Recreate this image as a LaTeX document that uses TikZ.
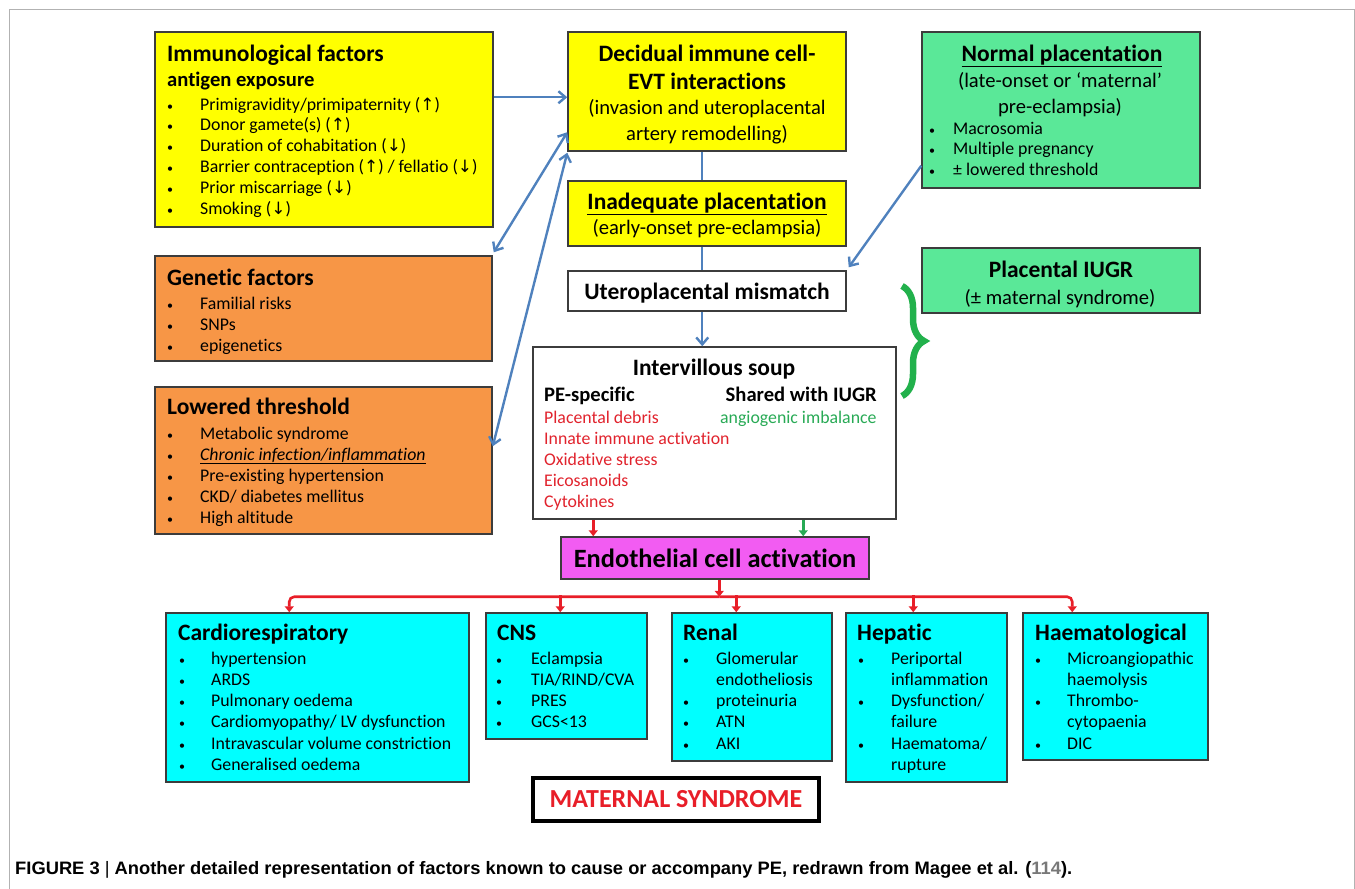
\documentclass[tikz,border=0pt]{standalone}
\usepackage{fontspec}
\setmainfont{Carlito}[Ligatures={NoCommon}]
\newfontfamily\arrowfont{DejaVu Sans}
\newfontfamily\capfont{Liberation Sans}
\usepackage{graphicx}
\usetikzlibrary{arrows.meta,fit,decorations.pathreplacing,calc}

\definecolor{yel}{RGB}{255,255,0}
\definecolor{org}{RGB}{247,150,70}
\definecolor{grn}{RGB}{90,232,152}
\definecolor{cyn}{RGB}{0,255,255}
\definecolor{mag}{RGB}{242,92,242}
\definecolor{bluearr}{RGB}{79,129,189}
\definecolor{redc}{RGB}{232,30,40}
\definecolor{redt}{RGB}{225,35,45}
\definecolor{grtext}{RGB}{40,170,85}
\definecolor{brace}{RGB}{34,177,76}
\definecolor{bord}{RGB}{60,60,60}
\definecolor{capgray}{RGB}{120,120,120}

\newcommand\bl[1][30pt]{\makebox[#1][l]{\fontsize{12}{12}\selectfont\textbullet}}
\newcommand\cn[1][30pt]{\hspace*{#1}}
\newcommand\ua{{\arrowfont\fontsize{17}{17}\selectfont ↑}}
\newcommand\da{{\arrowfont\fontsize{17}{17}\selectfont ↓}}

\tikzset{
 bx/.style={draw=bord, line width=1.5pt, inner sep=0pt},
 ttl/.style={anchor=base west, inner sep=0pt, font=\bfseries\fontsize{23.5}{28}\selectfont},
 ttc/.style={anchor=base, inner sep=0pt, font=\bfseries\fontsize{23.5}{28}\selectfont},
 sbb/.style={anchor=base west, inner sep=0pt, font=\bfseries\fontsize{20.6}{24}\selectfont},
 sub/.style={anchor=base, inner sep=0pt, font=\fontsize{20.6}{24}\selectfont},
 itm/.style={anchor=base west, inner sep=0pt, font=\fontsize{17.8}{21}\selectfont},
 barr/.style={draw=bluearr, line width=2.4pt, -{Straight Barb[length=7pt,width=12pt]}},
 barrtwo/.style={draw=bluearr, line width=2.4pt, {Straight Barb[length=7pt,width=12pt]}-{Straight Barb[length=7pt,width=12pt]}},
 bline/.style={draw=bluearr, line width=2.4pt},
 rarr/.style={draw=redc, line width=2.6pt, -{Triangle[length=6pt,width=9pt]}},
 garr/.style={draw=grtext, line width=2.6pt, -{Triangle[length=6pt,width=9pt]}},
}

\begin{document}
\begin{tikzpicture}[x=1pt,y=-1pt]
\useasboundingbox (0,0) rectangle (1355,889);
\draw[gray!60, line width=1pt] (9,889) -- (9,9) -- (1354,9) -- (1354,889);

% Immunological factors
\node[bx, fill=yel, fit={(155,32) (493,227)}] (imm) {};
\node[ttl] (immT) at (167,61) {Immunological factors};
\node[sbb] (immS) at (167,86) {antigen exposure};
\foreach \t [count=\i from 0] in {{Primigravidity/primipaternity (\ua)},{Donor gamete(s) (\ua)},{Duration of cohabitation (\da)},{Barrier contraception (\ua) / fellatio (\da)},{Prior miscarriage (\da)},{Smoking (\da)}}
  \node[itm] (imm\i) at (167,110+20.8*\i) {\bl[33pt]\t};

% Decidual
\node[bx, fill=yel, fit={(568,32) (846,151)}] (dec) {};
\node[ttc] (decA) at (707,61) {Decidual immune cell-};
\node[ttc] (decB) at (707,89) {EVT interactions};
\node[sub] (decC) at (707,114) {(invasion and uteroplacental};
\node[sub] (decD) at (707,140) {artery remodelling)};

% Inadequate placentation
\node[bx, fill=yel, fit={(568,181) (846,246)}] (inad) {};
\node[ttc] (inadA) at (707,209) {\underline{Inadequate placentation}};
\node[sub] (inadB) at (707,234) {(early-onset pre-eclampsia)};

% Normal placentation
\node[bx, fill=grn, fit={(922,32) (1200,188)}] (norm) {};
\node[ttc] (normA) at (1062,61) {\underline{Normal placentation}};
\node[sub] (normB) at (1060,87) {(late-onset or ‘maternal’};
\node[sub] (normC) at (1060,113) {pre-eclampsia)};
\foreach \t [count=\i from 0] in {{Macrosomia},{Multiple pregnancy},{± lowered threshold}}
  \node[itm] (norm\i) at (929,134+20.8*\i) {\bl[24pt]\t};

% Genetic factors
\node[bx, fill=org, fit={(155,256) (492,361)}] (gen) {};
\node[ttl] (genT) at (167,285) {Genetic factors};
\foreach \t [count=\i from 0] in {{Familial risks},{SNPs},{epigenetics}}
  \node[itm] (gen\i) at (167,309+21*\i) {\bl[33pt]\t};

% Lowered threshold
\node[bx, fill=org, fit={(155,387) (492,534)}] (low) {};
\node[ttl] (lowT) at (167,414) {Lowered threshold};
\foreach \t [count=\i from 0] in {{Metabolic syndrome},{\underline{\textit{Chronic infection/inflammation}}},{Pre-existing hypertension},{CKD/ diabetes mellitus},{High altitude}}
  \node[itm] (low\i) at (167,439+21*\i) {\bl[33pt]\t};

% Uteroplacental mismatch
\node[bx, fill=white, fit={(568,271) (846,311)}] (ump) {};
\node[ttc] (umpT) at (707,299) {Uteroplacental mismatch};

% Intervillous soup
\node[bx, fill=white, fit={(533,347) (896,519)}] (ivs) {};
\node[ttc] (ivsT) at (714,375) {Intervillous soup};
\node[sbb] (ivsA) at (544,401) {PE-specific};
\node[sbb, anchor=base east] (ivsB) at (877,401) {Shared with IUGR};
\foreach \t [count=\i from 0] in {{Placental debris},{Innate immune activation},{Oxidative stress},{Eicosanoids},{Cytokines}}
  \node[itm, text=redt] (ivs\i) at (544,423+21.2*\i) {\t};
\node[itm, text=grtext] (ivsG) at (720,423) {angiogenic imbalance};

% Placental IUGR
\node[bx, fill=grn, fit={(922,248) (1200,313)}] (iugr) {};
\node[ttc] (iugrA) at (1061,277) {Placental IUGR};
\node[sub] (iugrB) at (1060,304) {(± maternal syndrome)};

% brace
\draw[brace, line width=6.5pt, decorate, decoration={brace, amplitude=22pt}] (902,286) -- (902,396);

% Endothelial
\node[bx, fill=mag, fit={(561,537) (869,579)}] (endo) {};
\node[anchor=base, inner sep=0pt, font=\bfseries\fontsize{26.4}{30}\selectfont] (endoT) at (715,567) {Endothelial cell activation};

% Bottom boxes
\node[bx, fill=cyn, fit={(166,613) (469,782)}] (card) {};
\node[ttl] (cardT) at (178,640) {Cardiorespiratory};
\foreach \t [count=\i from 0] in {{hypertension},{ARDS},{Pulmonary oedema},{Cardiomyopathy/ LV dysfunction},{Intravascular volume constriction},{Generalised oedema}}
  \node[itm] (card\i) at (179,664+21.3*\i) {\bl[32pt]\t};

\node[bx, fill=cyn, fit={(486,613) (647,739)}] (cns) {};
\node[ttl] (cnsT) at (497,640) {CNS};
\foreach \t [count=\i from 0] in {{Eclampsia},{TIA/RIND/CVA},{PRES},{GCS<13}}
  \node[itm] (cns\i) at (496,664+21.3*\i) {\bl[35pt]\t};

\node[bx, fill=cyn, fit={(672,613) (832,761)}] (ren) {};
\node[ttl] (renT) at (683,640) {Renal};
\foreach \t [count=\i from 0] in {{\bl[33pt]Glomerular},{\cn[33pt]endotheliosis},{\bl[33pt]proteinuria},{\bl[33pt]ATN},{\bl[33pt]AKI}}
  \node[itm] (ren\i) at (683,664+21.3*\i) {\t};

\node[bx, fill=cyn, fit={(846,613) (1007,782)}] (hep) {};
\node[ttl] (hepT) at (857,640) {Hepatic};
\foreach \t [count=\i from 0] in {{\bl[33pt]Periportal},{\cn[33pt]inflammation},{\bl[33pt]Dysfunction/},{\cn[33pt]failure},{\bl[33pt]Haematoma/},{\cn[33pt]rupture}}
  \node[itm] (hep\i) at (858,664+21.3*\i) {\t};

\node[bx, fill=cyn, fit={(1023,613) (1208,760)}] (haem) {};
\node[ttl] (haemT) at (1035,640) {Haematological};
\foreach \t [count=\i from 0] in {{\bl[32pt]Microangiopathic},{\cn[32pt]haemolysis},{\bl[32pt]Thrombo-},{\cn[32pt]cytopaenia},{\bl[32pt]DIC}}
  \node[itm] (haem\i) at (1035,664+21.3*\i) {\t};

% Maternal syndrome
\node[draw=black, line width=3.5pt, inner sep=0pt, fit={(533,778) (819,821)}] (mat) {};
\node[anchor=base, inner sep=0pt, text=redc, font=\bfseries\fontsize{26}{30}\selectfont] (matT) at (676,807) {MATERNAL SYNDROME};

% Blue connectors
\draw[barr] ($(imm.north east)+(0,66)$) -- ($(dec.north west)+(0,66)$);
\draw[barrtwo] ($(gen.north east)+(1,-3)$) -- ($(dec.north west)+(0,101)$);
\draw[barrtwo] ($(low.north east)+(0,60)$) -- ($(dec.south west)+(0,1)$);
\draw[bline] ($(dec.south west)+(135,0)$) -- ($(inad.north west)+(135,0)$);
\draw[bline] ($(inad.south west)+(135,0)$) -- ($(ump.north west)+(135,0)$);
\draw[barr] ($(ump.south west)+(135,0)$) -- ($(ivs.north west)+(170,0)$);
\draw[barr] ($(norm.south west)+(0,-23)$) -- ($(ump.north east)+(2,-3)$);

% Red / green connectors
\draw[rarr] ($(ivs.south west)+(61,0)$) -- ($(endo.north west)+(33,0)$);
\draw[garr] ($(ivs.south west)+(271,0)$) -- ($(endo.north west)+(243,0)$);
\coordinate (bus) at ($(endo.south west)+(159,17)$);
\draw[rarr] ($(endo.south west)+(159,0)$) -- (bus);
\draw[rarr, rounded corners=5pt] (bus) -| ($(card.north west)+(124,0)$);
\draw[rarr, rounded corners=5pt] (bus) -| ($(haem.north west)+(50,0)$);
\draw[rarr] ($(cns.north west)+(75,-17)$) -- ($(cns.north west)+(75,0)$);
\draw[rarr] ($(ren.north west)+(65,-17)$) -- ($(ren.north west)+(65,0)$);
\draw[rarr] ($(hep.north west)+(68,-17)$) -- ($(hep.north west)+(68,0)$);

% Caption
\node[anchor=base west, inner sep=0pt] (cap) at (15,874) {\resizebox{1057pt}{\height}{\capfont\bfseries\fontsize{18}{20}\selectfont FIGURE 3 {\mdseries|} Another detailed representation of factors known to cause or accompany PE, redrawn from Magee et al. ({\color{capgray}114}).}};
\end{tikzpicture}
\end{document}
